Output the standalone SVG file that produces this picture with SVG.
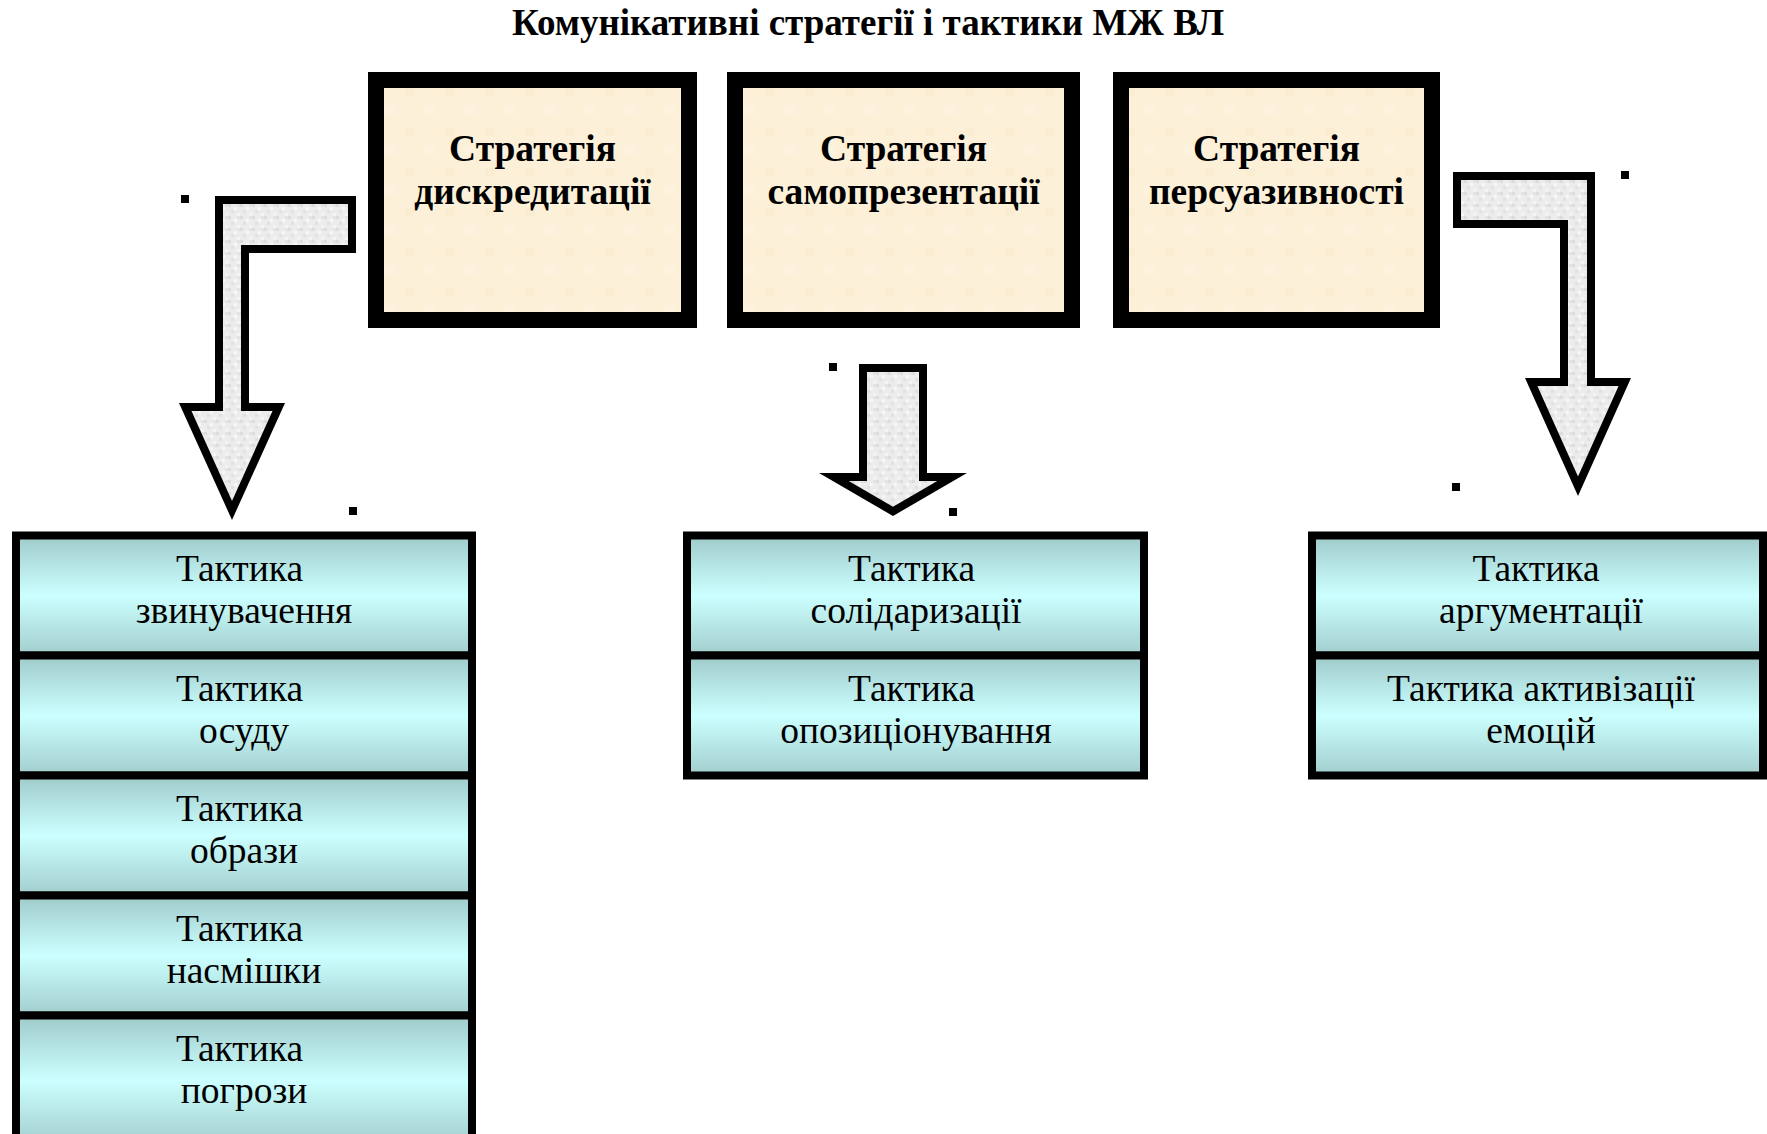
<svg xmlns="http://www.w3.org/2000/svg" width="1767" height="1134" viewBox="0 0 1767 1134">
<defs>
<linearGradient id="cell" x1="0" y1="0" x2="0" y2="1">
<stop offset="0" stop-color="#9fcaca"/>
<stop offset="0.5" stop-color="#ccffff"/>
<stop offset="1" stop-color="#a2cdcd"/>
</linearGradient>
<pattern id="speck" width="12" height="12" patternUnits="userSpaceOnUse">
<rect width="12" height="12" fill="#ececec"/>
<rect x="0" y="0" width="3" height="3" fill="#dcdcdc"/>
<rect x="6" y="3" width="3" height="3" fill="#f7f7f7"/>
<rect x="3" y="6" width="3" height="3" fill="#e0e0e0"/>
<rect x="9" y="9" width="3" height="3" fill="#f5f5f5"/>
<rect x="9" y="0" width="3" height="3" fill="#e4e4e4"/>
</pattern>
<pattern id="paper" width="40" height="40" patternUnits="userSpaceOnUse">
<rect width="40" height="40" fill="#fcf0d8"/>
<rect x="5" y="8" width="10" height="8" fill="#faecd0" opacity="0.8"/>
<rect x="24" y="26" width="12" height="9" fill="#fdf3df" opacity="0.8"/>
</pattern>
</defs>
<style>
.title{font-family:"Liberation Serif","Times New Roman",serif;font-weight:bold;font-size:37px;fill:#000}
.strat{font-family:"Liberation Serif","Times New Roman",serif;font-weight:bold;font-size:37.5px;fill:#000;text-anchor:middle}
.tac{font-family:"Liberation Serif","Times New Roman",serif;font-size:37.5px;fill:#000;text-anchor:middle}
.sbox{fill:url(#paper);stroke:#000;stroke-width:16}
.cell{fill:url(#cell);stroke:#000;stroke-width:8}
.aout{fill:#000}
.ain{fill:url(#speck)}
.dot{fill:#000}
</style>
<rect width="1767" height="1134" fill="#fff"/>
<text class="title" x="868" y="35" text-anchor="middle">Комунікативні стратегії і тактики МЖ ВЛ</text>

<g id="strategy-discredit">
<rect class="sbox" x="376" y="80" width="313" height="240"/>
<text class="strat" x="532.5" y="161">Стратегія</text>
<text class="strat" x="532.5" y="204">дискредитації</text>
</g>
<g id="strategy-selfpresentation">
<rect class="sbox" x="735" y="80" width="337" height="240"/>
<text class="strat" x="903.5" y="161">Стратегія</text>
<text class="strat" x="903.5" y="204">самопрезентації</text>
</g>
<g id="strategy-persuasion">
<rect class="sbox" x="1121" y="80" width="311" height="240"/>
<text class="strat" x="1276.5" y="161">Стратегія</text>
<text class="strat" x="1276.5" y="204">персуазивності</text>
</g>

<g id="connectors">
<g id="arrow-left">
<polygon class="aout" points="356,196 215,196 215,403 179,403 232,520 285,403 249,403 249,253 356,253"/>
<polygon class="ain" points="348,204 223,204 223,411 191.5,411 232,501 272.5,411 241,411 241,245 348,245"/>
</g>
<g id="arrow-middle">
<polygon class="aout" points="859,364 927,364 927,473 967,473 893,516 819,473 859,473"/>
<polygon class="ain" points="867,372 919,372 919,481 937.3,481 893,506.8 848.7,481 867,481"/>
</g>
<g id="arrow-right">
<polygon class="aout" points="1453,172 1595,172 1595,378 1631,378 1578,496 1525,378 1560,378 1560,228 1453,228"/>
<polygon class="ain" points="1461,180 1587,180 1587,386 1618.6,386 1578,476.4 1537.4,386 1568,386 1568,220 1461,220"/>
</g>
</g>

<g id="markers">
<rect class="dot" x="181" y="195" width="8" height="8"/>
<rect class="dot" x="349" y="507" width="8" height="8"/>
<rect class="dot" x="829" y="363" width="8" height="8"/>
<rect class="dot" x="949" y="508" width="8" height="8"/>
<rect class="dot" x="1621" y="171" width="8" height="8"/>
<rect class="dot" x="1452" y="483" width="8" height="8"/>
</g>

<g id="tactic-accusation">
<rect class="cell" x="16" y="535.5" width="456" height="120"/>
<text class="tac" x="239.5" y="581">Тактика</text>
<text class="tac" x="244" y="623">звинувачення</text>
</g>
<g id="tactic-condemnation">
<rect class="cell" x="16" y="655.5" width="456" height="120"/>
<text class="tac" x="239.5" y="701">Тактика</text>
<text class="tac" x="244" y="743">осуду</text>
</g>
<g id="tactic-insult">
<rect class="cell" x="16" y="775.5" width="456" height="120"/>
<text class="tac" x="239.5" y="821">Тактика</text>
<text class="tac" x="244" y="863">образи</text>
</g>
<g id="tactic-mockery">
<rect class="cell" x="16" y="895.5" width="456" height="120"/>
<text class="tac" x="239.5" y="941">Тактика</text>
<text class="tac" x="244" y="983">насмішки</text>
</g>
<g id="tactic-threat">
<rect class="cell" x="16" y="1015.5" width="456" height="130"/>
<text class="tac" x="239.5" y="1061">Тактика</text>
<text class="tac" x="244" y="1103">погрози</text>
</g>

<g id="tactic-solidarization">
<rect class="cell" x="687" y="535.5" width="457" height="120"/>
<text class="tac" x="911.5" y="581">Тактика</text>
<text class="tac" x="916" y="623">солідаризації</text>
</g>
<g id="tactic-opposition">
<rect class="cell" x="687" y="655.5" width="457" height="120"/>
<text class="tac" x="911.5" y="701">Тактика</text>
<text class="tac" x="916" y="743">опозиціонування</text>
</g>

<g id="tactic-argumentation">
<rect class="cell" x="1312" y="535.5" width="451" height="120"/>
<text class="tac" x="1536" y="581">Тактика</text>
<text class="tac" x="1541" y="623">аргументації</text>
</g>
<g id="tactic-emotions">
<rect class="cell" x="1312" y="655.5" width="451" height="120"/>
<text class="tac" x="1541" y="701">Тактика активізації</text>
<text class="tac" x="1541" y="743">емоцій</text>
</g>
</svg>
